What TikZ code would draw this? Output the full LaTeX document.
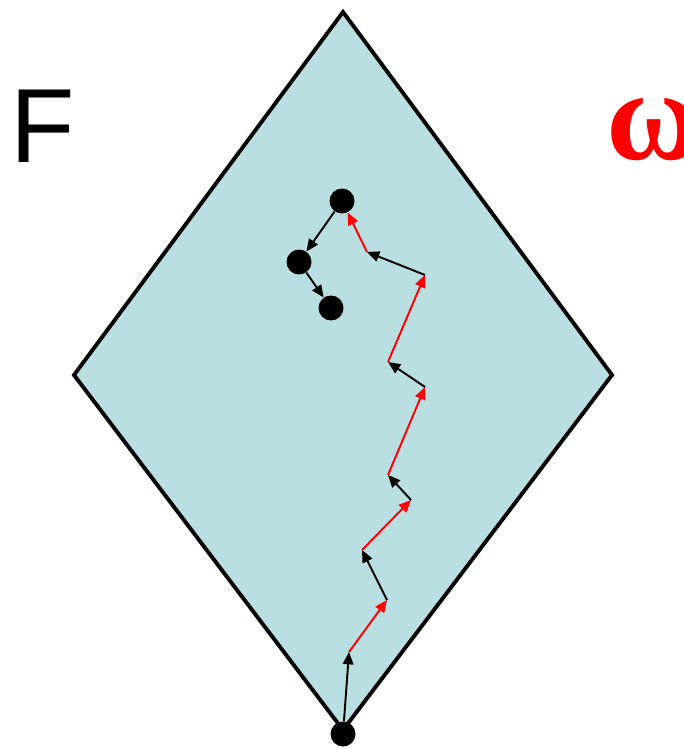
\documentclass[tikz,border=0pt]{standalone}
\usepackage{fontspec}
\setmainfont{Liberation Serif}
\newfontfamily\labelsans{Liberation Sans}
\usetikzlibrary{arrows.meta}
\definecolor{fieldblue}{RGB}{186,223,227}
\tikzset{
  dot/.style={circle, fill=black, inner sep=0pt, minimum size=0.5cm},
  walkarrow/.style={line width=1.1pt, -{Triangle[length=7pt, width=6pt]}},
  redwalk/.style={walkarrow, red},
  blackwalk/.style={walkarrow, black}
}
\begin{document}
\begin{tikzpicture}[x=0.02cm, y=-0.02cm]
  \useasboundingbox (0,0) rectangle (683,749);
  % Diamond
  \draw[line width=2.2pt, fill=fieldblue, line join=miter]
    (343,12) -- (612,375) -- (343,730) -- (74,375) -- cycle;
  % Labels
  \node[anchor=base west, inner sep=0pt] (lblF) at (10,163) {\labelsans\fontsize{60}{60}\selectfont F};
  \node[anchor=base west, inner sep=0pt, text=red] (lblw) at (606,160) {\fontsize{74}{74}\selectfont\bfseries ω};
  % Dots
  \node[dot] (start) at (343,734) {};
  \node[dot] (d1) at (342,201) {};
  \node[dot] (d2) at (299,262) {};
  \node[dot] (d3) at (331,308) {};
  % Walk
  \coordinate (p1) at (349,652);
  \coordinate (p2) at (387,600);
  \coordinate (p3) at (362,550);
  \coordinate (p4) at (411,500);
  \coordinate (p5) at (388,475);
  \coordinate (p6) at (425,387);
  \coordinate (p7) at (388,362);
  \coordinate (p8) at (425,275);
  \coordinate (p9) at (367,252);
  \draw[blackwalk] (start) -- (p1);
  \draw[redwalk] (p1) -- (p2);
  \draw[blackwalk] (p2) -- (p3);
  \draw[redwalk] (p3) -- (p4);
  \draw[blackwalk] (p4) -- (p5);
  \draw[redwalk] (p5) -- (p6);
  \draw[blackwalk] (p6) -- (p7);
  \draw[redwalk] (p7) -- (p8);
  \draw[blackwalk] (p8) -- (p9);
  \draw[redwalk] (p9) -- (d1);
  \draw[blackwalk] (d1) -- (d2);
  \draw[blackwalk] (d2) -- (d3);
\end{tikzpicture}
\end{document}
